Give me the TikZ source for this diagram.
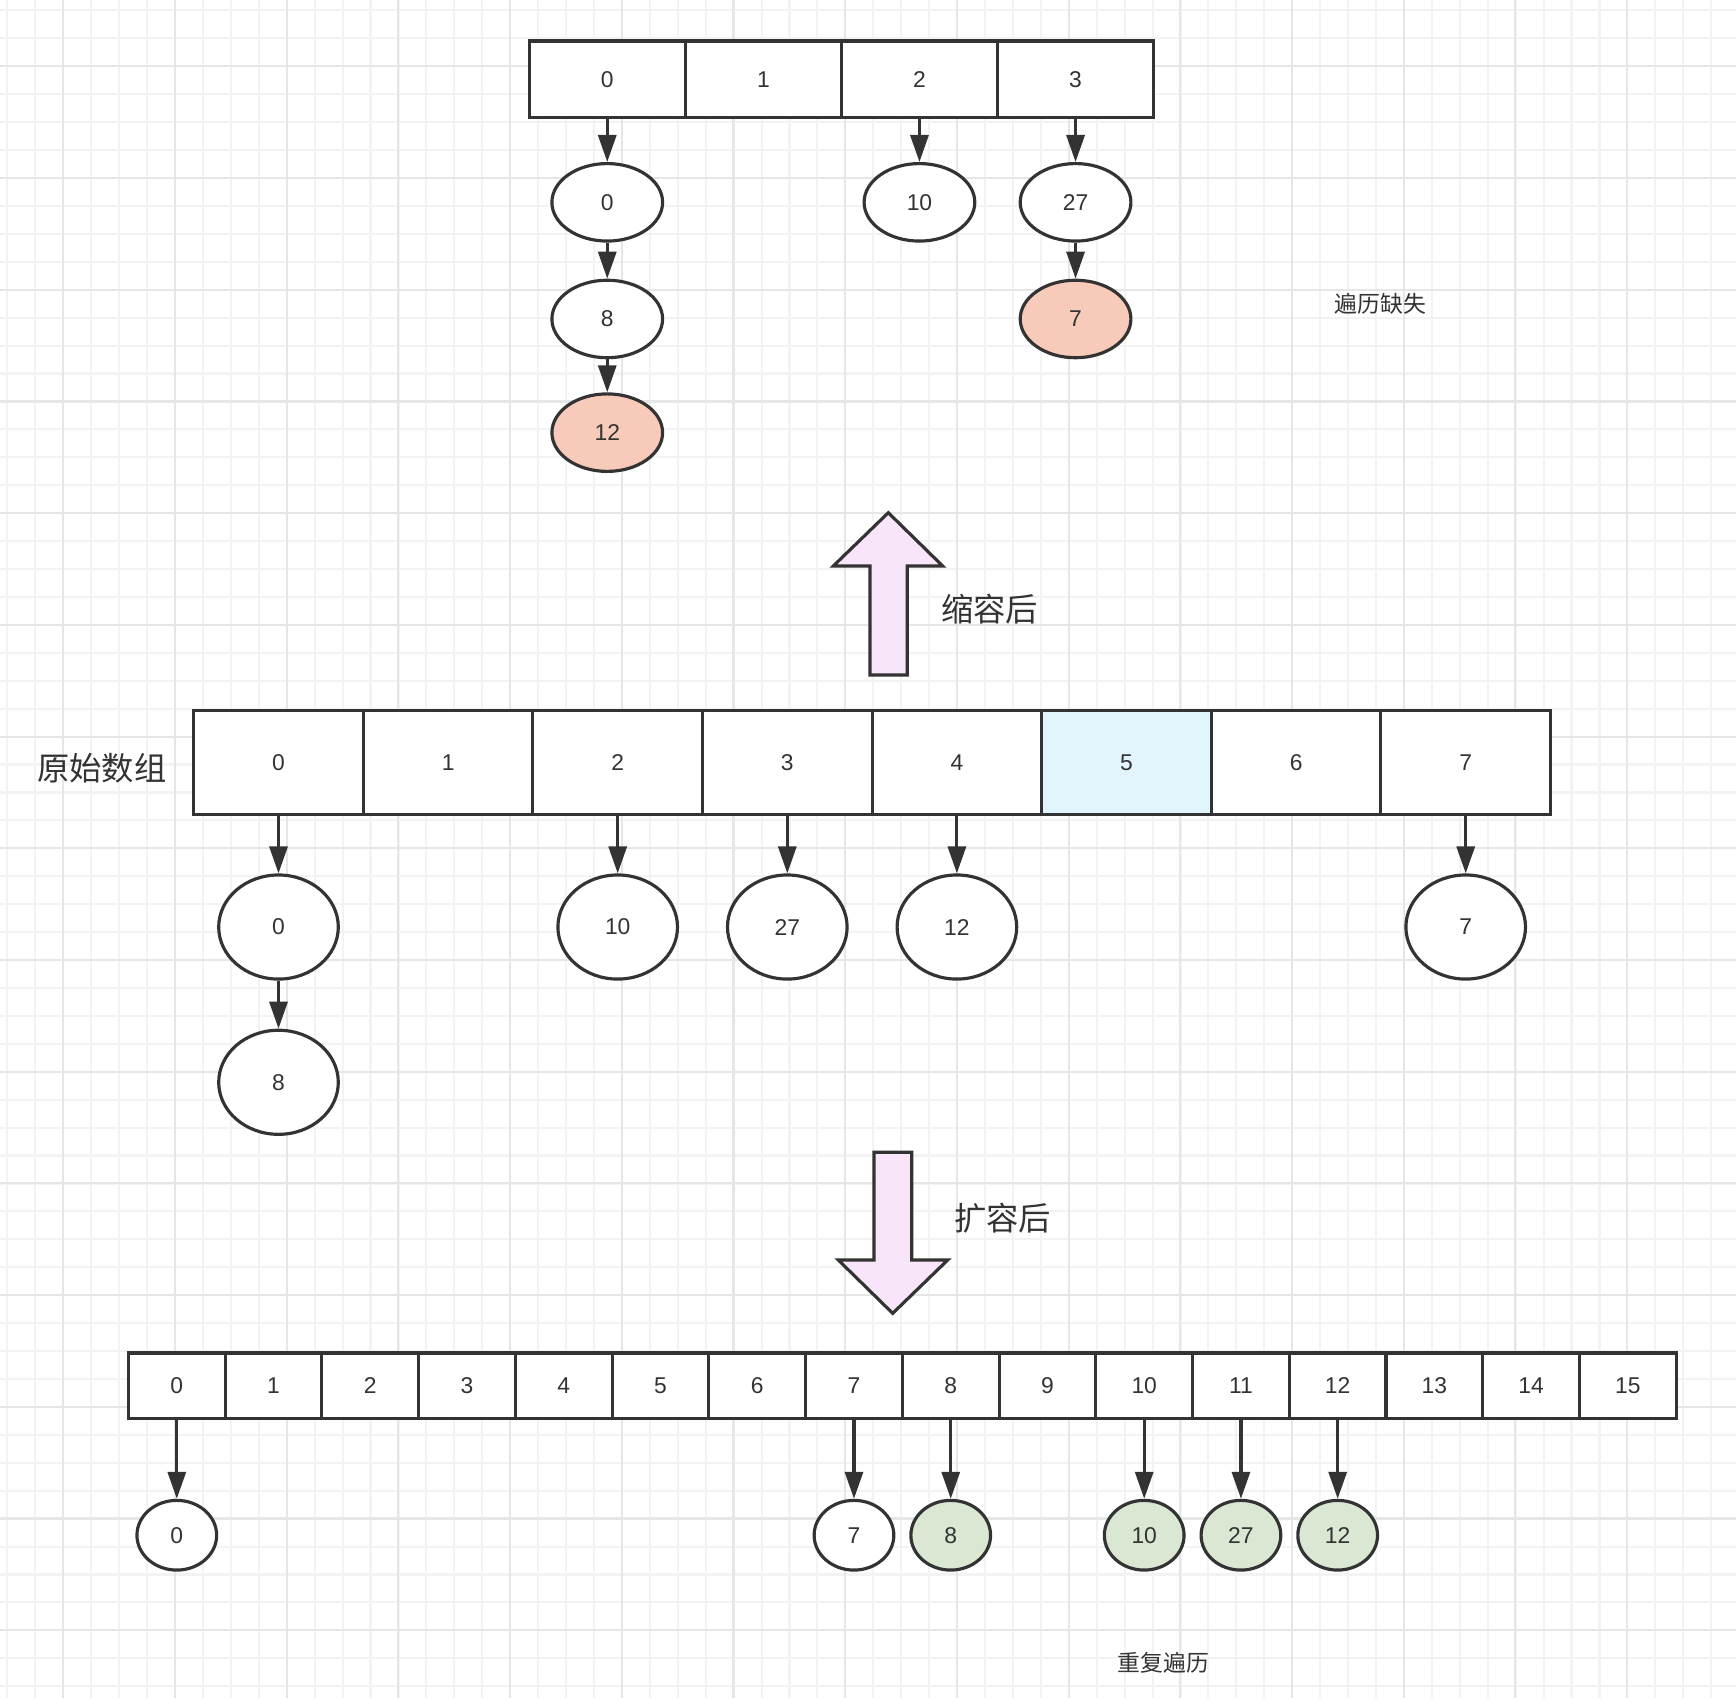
\documentclass[tikz,border=0pt]{standalone}
\usepackage{fontspec}
\setmainfont{Liberation Sans}
\newfontfamily\cjk{Noto Sans CJK SC}
\usetikzlibrary{positioning, shapes.geometric, arrows.meta}
\definecolor{inkgray}{HTML}{333333}
\definecolor{gridminor}{HTML}{F3F3F3}
\definecolor{gridmajor}{HTML}{E6E6E6}
\definecolor{lostred}{HTML}{F7CABA}
\definecolor{dupgreen}{HTML}{D9E7D3}
\definecolor{slotblue}{HTML}{E3F5FC}
\definecolor{arrowpink}{HTML}{F9E5F9}

\begin{document}
\begin{tikzpicture}[x=0.1mm, y=-0.1mm,
    cell/.style={draw=inkgray, line width=0.9pt, fill=white, inner sep=0pt,
        text=inkgray, font=\fontsize{6.5}{8}\selectfont},
    bucket/.style={ellipse, draw=inkgray, line width=0.9pt, fill=white, inner sep=0pt,
        text=inkgray, font=\fontsize{6.5}{8}\selectfont},
    link/.style={draw=inkgray, line width=0.9pt, -{Triangle[length=2.7mm, width=1.8mm]}},
    bigarrow/.style={draw=inkgray, line width=0.9pt, fill=arrowpink},
    note/.style={text=inkgray, font=\cjk\fontsize{6.5}{8}\selectfont},
    caption/.style={text=inkgray, font=\cjk\fontsize{9.2}{11}\selectfont}
  ]
  \useasboundingbox (0,0) rectangle (1736,1698);
  \fill[white] (0,0) rectangle (1736,1698);

  % background grid
  \foreach \i [evaluate=\i as \gx using 7.44+27.93*\i] in {0,...,61}
    \draw[gridminor, line width=0.6pt] (\gx,0) -- (\gx,1698);
  \foreach \j [evaluate=\j as \gy using 10.4+27.93*\j] in {0,...,60}
    \draw[gridminor, line width=0.6pt] (0,\gy) -- (1736,\gy);
  \foreach \i [evaluate=\i as \gx using 63.3+111.7*\i] in {0,...,14}
    \draw[gridmajor, line width=0.6pt] (\gx,0) -- (\gx,1698);
  \foreach \j [evaluate=\j as \gy using 66.4+111.7*\j] in {0,...,14}
    \draw[gridmajor, line width=0.6pt] (0,\gy) -- (1736,\gy);

  % after shrinking
  \foreach \k in {0,...,3}
    \node[cell, minimum width=15.61mm, minimum height=7.64mm] (t\k) at (607.25+156.1*\k, 79.2) {\k};
  \node[bucket, minimum width=11.07mm, minimum height=7.75mm, below=4.3mm of t0] (ta) {0};
  \node[bucket, minimum width=11.07mm, minimum height=7.75mm, below=3.6mm of ta] (tb) {8};
  \node[bucket, minimum width=11.07mm, minimum height=7.75mm, below=3.3mm of tb, fill=lostred] (tc) {12};
  \node[bucket, minimum width=11.07mm, minimum height=7.75mm, below=4.3mm of t2] (td) {10};
  \node[bucket, minimum width=11.07mm, minimum height=7.75mm, below=4.3mm of t3] (te) {27};
  \node[bucket, minimum width=11.07mm, minimum height=7.75mm, below=3.6mm of te, fill=lostred] (tf) {7};
  \draw[link] (t0) -- (ta);
  \draw[link] (ta) -- (tb);
  \draw[link] (tb) -- (tc);
  \draw[link] (t2) -- (td);
  \draw[link] (t3) -- (te);
  \draw[link] (te) -- (tf);
  \node[note] (lost) at (1380.6, 303.3) {遍历缺失};

  \draw[bigarrow] (888.3,512.7) -- (942.7,566) -- (907.3,566) -- (907.3,675)
    -- (870,675) -- (870,566) -- (833.3,566) -- cycle;
  \node[caption] (shrink) at (989.8, 608.9) {缩容后};

  % original table
  \foreach \k in {0,...,7}
    \node[cell, minimum width=16.96mm, minimum height=10.4mm] (m\k) at (278.5+169.6*\k, 762.8) {\k};
  \node[cell, minimum width=16.96mm, minimum height=10.4mm, fill=slotblue] at (m5) {5};
  \node[caption] (orig) at (101.9, 768.3) {原始数组};
  \node[bucket, minimum width=11.96mm, minimum height=10.41mm, below=5.7mm of m0] (ma) {0};
  \node[bucket, minimum width=11.96mm, minimum height=10.41mm, below=4.8mm of ma] (mb) {8};
  \node[bucket, minimum width=11.96mm, minimum height=10.41mm, below=5.7mm of m2] (mc) {10};
  \node[bucket, minimum width=11.96mm, minimum height=10.41mm, below=5.7mm of m3] (md) {27};
  \node[bucket, minimum width=11.96mm, minimum height=10.41mm, below=5.7mm of m4] (me) {12};
  \node[bucket, minimum width=11.96mm, minimum height=10.41mm, below=5.7mm of m7] (mf) {7};
  \draw[link] (m0) -- (ma);
  \draw[link] (ma) -- (mb);
  \draw[link] (m2) -- (mc);
  \draw[link] (m3) -- (md);
  \draw[link] (m4) -- (me);
  \draw[link] (m7) -- (mf);

  \draw[bigarrow] (874,1152.3) -- (911.7,1152.3) -- (911.7,1260) -- (947.7,1260)
    -- (892.7,1313.3) -- (838.3,1260) -- (874,1260) -- cycle;
  \node[caption] (grow) at (1002.5, 1217.8) {扩容后};

  % after growing
  \foreach \k in {0,...,15}
    \node[cell, minimum width=9.674mm, minimum height=6.53mm] (b\k) at (176.8+96.74*\k, 1385.55) {\k};
  \node[bucket, minimum width=7.97mm, minimum height=6.97mm, below=7.9mm of b0] (ba) {0};
  \node[bucket, minimum width=7.97mm, minimum height=6.97mm, below=7.9mm of b7] (bb) {7};
  \node[bucket, minimum width=7.97mm, minimum height=6.97mm, below=7.9mm of b8, fill=dupgreen] (bc) {8};
  \node[bucket, minimum width=7.97mm, minimum height=6.97mm, below=7.9mm of b10, fill=dupgreen] (bd) {10};
  \node[bucket, minimum width=7.97mm, minimum height=6.97mm, below=7.9mm of b11, fill=dupgreen] (be) {27};
  \node[bucket, minimum width=7.97mm, minimum height=6.97mm, below=7.9mm of b12, fill=dupgreen] (bf) {12};
  \foreach \s/\e in {b0/ba, b7/bb, b8/bc, b10/bd, b11/be, b12/bf}
    \draw[link] (\s) -- (\e);
  \node[note] (dup) at (1163.6, 1662.9) {重复遍历};
\end{tikzpicture}
\end{document}
